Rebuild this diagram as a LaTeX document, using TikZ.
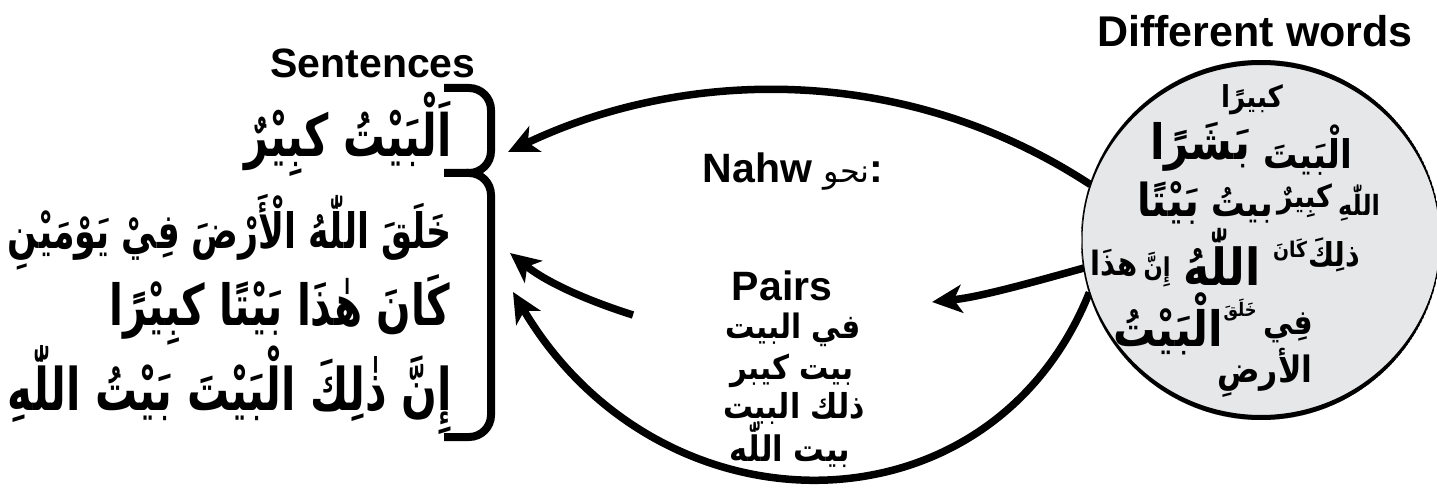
\documentclass[tikz,border=0pt]{standalone}
\usepackage{fontspec}
\usepackage{graphicx}
\usetikzlibrary{arrows.meta,calc}
\setmainfont{Liberation Sans}
\newfontfamily\arabicfont[Script=Arabic]{DejaVu Sans}
\TeXXeTstate=1
\definecolor{discgray}{HTML}{E6E7E8}
% Arabic text, bold, set to a given width and drawn a little taller
\newcommand\arl[2]{\resizebox{#1}{!}{\scalebox{1}[1.4]{\arabicfont\bfseries #2}}}
\newcommand\arw[2]{\resizebox{#1}{!}{\scalebox{1}[1.15]{\arabicfont\bfseries #2}}}
\newcommand\arp[2]{\resizebox{#1}{!}{\scalebox{1}[1.15]{\arabicfont\bfseries #2}}}
\pgfdeclarelayer{back}
\pgfsetlayers{back,main}

\begin{document}
\begin{tikzpicture}[x=1pt,y=-1pt,
  title/.style={font=\bfseries\fontsize{41}{41}\selectfont, inner sep=0pt},
  word/.style={inner sep=0pt},
  flow/.style={line width=7.5pt, -{Stealth[length=30pt,width=28pt,inset=8pt]}},
  bracketline/.style={line width=8pt, rounded corners=22pt},
]
\useasboundingbox (0,0) rectangle (1437,497);

% headings
\node[title, anchor=base, font=\bfseries\fontsize{43}{43}\selectfont] (diff) at (1255,47) {Different words};
\node[title, anchor=base] (sent) at (373,78) {Sentences};
\node[title, anchor=base] (nahw) at (793,183) {Nahw {\arabicfont\mdseries\fontsize{32}{32}\selectfont\beginR نحو\endR}:};

% sentences
\node[word, anchor=east] (s1t) at (452,134) {\arl{207pt}{\beginR اَلْبَيْتُ كبِيْرٌ\endR}};
\node[word, anchor=east] (s2t) at (452,232) {\arl{444pt}{\beginR خَلَقَ اللّٰهُ الْأَرْضَ فِيْ يَوْمَيْنِ\endR}};
\node[word, anchor=east] (s3t) at (450,310) {\arl{340pt}{\beginR كَانَ هٰذَا بَيْتًا كبِيْرًا\endR}};
\node[word, anchor=east] (s4t) at (452,390) {\arl{444pt}{\beginR إِنَّ ذٰلِكَ الْبَيْتَ بَيْتُ اللّٰهِ\endR}};

% bracket
\draw[bracketline] (444,88) -| (491,173) -- (444,173);
\draw[bracketline] (466,173) -| (491,437) -- (444,437);
\coordinate (t1) at (508,152);
\coordinate (t2) at (510,253);
\coordinate (t3) at (513,292);

% pairs
\node[title, anchor=base] (pairs) at (782,300) {Pairs};
\node[word] (p1) at (793,330) {\arp{135pt}{\beginR في البيت\endR}};
\node[word] (p2) at (792,371) {\arp{123pt}{\beginR بيت كيبر\endR}};
\node[word] (p3) at (794,408) {\arp{142pt}{\beginR ذلك البيت\endR}};
\node[word] (p4) at (790,445) {\arp{120pt}{\beginR بيت اللّٰه\endR}};
\coordinate (pin) at (932,302);
\coordinate (pout) at (633,315);

% disc of words
\node[circle, minimum size=358pt, inner sep=0pt, fill=discgray, draw=black, line width=1pt] (words) at (1261,240) {};
\begin{scope}
  \clip (words.center) circle[radius=180pt];
  \fill[even odd rule] (words.center) circle[radius=180pt] ($(words.center)+(0,5)$) circle[radius=180pt];
  \fill[even odd rule] (words.center) circle[radius=180pt] ($(words.center)+(0,-5)$) circle[radius=180pt];
\end{scope}

\node[word] (c1) at (1252,100) {\arw{62pt}{كبيرًا}};
\node[word] (c2) at (1308,150) {\arw{89pt}{الْبَيتَ}};
\node[word] (c3) at (1200,147) {\arw{100pt}{بَشَرًا}};
\node[word] (c4) at (1359,203) {\arw{42pt}{اللّٰهِ}};
\node[word] (c5) at (1305,201) {\arw{55pt}{كبِيرٌ}};
\node[word] (c6) at (1242,205) {\arw{62pt}{بيتُ}};
\node[word] (c7) at (1168,203) {\arw{62pt}{بَيْتًا}};
\node[word] (c8) at (1334,255) {\arw{52pt}{ذلِكَ}};
\node[word] (c9) at (1290,250) {\arw{34pt}{كَانَ}};
\node[word] (c10) at (1222,257) {\arw{77pt}{اللّٰهُ}};
\node[word] (c11) at (1157,270) {\arw{27pt}{إِنَّ}};
\node[word] (c12) at (1114,263) {\arw{47pt}{هذَا}};
\node[word] (c13) at (1288,328) {\arw{50pt}{فِي}};
\node[word] (c14) at (1240,310) {\arw{33pt}{خَلَقَ}};
\node[word] (c15) at (1168,324) {\arw{110pt}{الْبَيْتُ}};
\node[word] (c16) at (1265,373) {\arw{95pt}{الأرضِ}};

% connectors
\begin{pgfonlayer}{back}
\draw[flow] (words.162) .. controls (900,60) and (680,70) .. (t1);
\draw[flow] (words.189) .. controls (1030,283) and (980,297) .. (pin);
\draw[flow] (pout) .. controls (595,303) and (550,285) .. (t2);
\draw[flow] (words.197) .. controls (990,540) and (660,540) .. (t3);
\end{pgfonlayer}
\end{tikzpicture}
\end{document}
